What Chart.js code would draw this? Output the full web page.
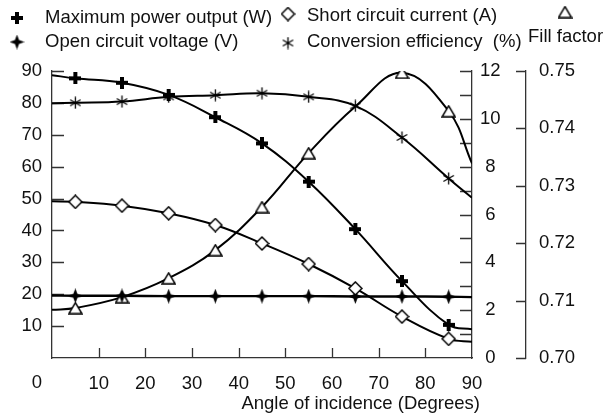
<!DOCTYPE html>
<html>
<head>
<meta charset="utf-8">
<script src="https://cdn.jsdelivr.net/npm/chart.js@4.4.0/dist/chart.umd.min.js"></script>
<style>
  html, body { margin: 0; padding: 0; background: #fff; }
</style>
</head>
<body>
<canvas id="myChart" width="612" height="417"></canvas>
<script>
// angle of incidence; first and last entries are where the curves meet the axes
const angles = [0, 5, 15, 25, 35, 45, 55, 65, 75, 85, 90];
const powerOutput = [88.7, 87.7, 86.3, 82.5, 75.5, 67.3, 55.3, 40.4, 24.1, 10.4, 9.0];
const openVoltage = [19.6, 19.5, 19.5, 19.4, 19.4, 19.4, 19.4, 19.3, 19.3, 19.2, 19.1];
const shortCurrent = [6.55, 6.53, 6.37, 6.05, 5.56, 4.79, 3.93, 2.91, 1.73, 0.80, 0.68];
const efficiency = [10.65, 10.67, 10.72, 10.92, 10.99, 11.07, 10.92, 10.54, 9.22, 7.51, 6.70];
const fillFactor = [0.7084, 0.7087, 0.7106, 0.7139, 0.7188, 0.7263, 0.7357, 0.7438, 0.7497, 0.7430, 0.7339];

const xTickLabels = [0, 10, 20, 30, 40, 50, 60, 70, 80, 90];
const fontFamily = '"Liberation Sans", Arial, sans-serif';
const axisColor = '#333';

Chart.defaults.font.family = fontFamily;
Chart.defaults.font.size = 18.5;
Chart.defaults.color = '#111';

function makeMarker(w, h, draw) {
  const c = document.createElement('canvas');
  c.width = w;
  c.height = h;
  const g = c.getContext('2d');
  g.strokeStyle = '#000';
  g.fillStyle = '#000';
  draw(g, w, h);
  return c;
}

const plusMark = makeMarker(12, 12, g => {
  g.fillRect(0, 4, 12, 4);
  g.fillRect(4, 0, 4, 12);
});
const diamondMark = makeMarker(15, 15, g => {
  g.beginPath();
  g.moveTo(7.5, 1); g.lineTo(14, 7.5); g.lineTo(7.5, 14); g.lineTo(1, 7.5);
  g.closePath();
  g.fillStyle = '#fff';
  g.fill();
  g.lineWidth = 1.5;
  g.stroke();
});
const starMark = makeMarker(15, 15, g => {
  g.beginPath();
  for (let i = 0; i < 8; i++) {
    const r = i % 2 === 0 ? 7.5 : 2.9;
    const a = -Math.PI / 2 + i * Math.PI / 4;
    const px = 7.5 + r * Math.cos(a), py = 7.5 + r * Math.sin(a);
    if (i === 0) g.moveTo(px, py); else g.lineTo(px, py);
  }
  g.closePath();
  g.fill();
});
const asteriskMark = makeMarker(13, 13, g => {
  g.lineWidth = 1.3;
  g.beginPath();
  [90, 30, 150].forEach(deg => {
    const a = deg * Math.PI / 180;
    g.moveTo(6.5 - 6 * Math.cos(a), 6.5 - 6 * Math.sin(a));
    g.lineTo(6.5 + 6 * Math.cos(a), 6.5 + 6 * Math.sin(a));
  });
  g.stroke();
});
const triangleMark = makeMarker(15, 13, g => {
  g.beginPath();
  g.moveTo(7.5, 1.2); g.lineTo(14, 12); g.lineTo(1, 12);
  g.closePath();
  g.fillStyle = '#fff';
  g.fill();
  g.lineWidth = 1.5;
  g.stroke();
});

const toPoints = vals => angles.map((a, i) => ({ x: a, y: vals[i] }));
const lastIdx = angles.length - 1;
const endRadius = ctx => (ctx.dataIndex === 0 || ctx.dataIndex === lastIdx) ? 0 : 6;

function series(label, vals, mark, axis, width, radius) {
  return {
    label: label,
    data: toPoints(vals),
    yAxisID: axis,
    borderColor: '#000',
    borderWidth: width,
    tension: 0.4,
    pointStyle: mark,
    pointRadius: radius || endRadius,
    fill: false
  };
}

const extras = {
  id: 'extras',
  beforeDatasetsDraw(chart) {
    const ctx = chart.ctx;
    const { x, y, y2, y3 } = chart.scales;
    ctx.save();
    ctx.strokeStyle = axisColor;
    ctx.lineWidth = 1.3;
    ctx.beginPath();
    x.ticks.forEach(t => {
      if (t.value > 0 && t.value < 90) {
        const px = Math.round(x.getPixelForValue(t.value)) + 0.5;
        ctx.moveTo(px, x.top); ctx.lineTo(px, x.top - 10);
      }
    });
    y.ticks.forEach(t => {
      if (t.value > 0) {
        const py = Math.round(y.getPixelForValue(t.value)) + 0.5;
        ctx.moveTo(y.right, py); ctx.lineTo(y.right + 12, py);
      }
    });
    y2.ticks.forEach(t => {
      if (t.value > 0) {
        const py = Math.round(y2.getPixelForValue(t.value)) + 0.5;
        ctx.moveTo(y2.left, py); ctx.lineTo(y2.left - 12, py);
      }
    });
    y3.ticks.forEach(t => {
      const py = Math.round(y3.getPixelForValue(t.value)) + 0.5;
      ctx.moveTo(y3.left, py); ctx.lineTo(y3.left - 10, py);
    });
    ctx.stroke();
    ctx.restore();
  },
  afterDraw(chart) {
    const ctx = chart.ctx;
    const { x } = chart.scales;
    ctx.save();
    ctx.fillStyle = '#111';
    ctx.font = '18.5px ' + fontFamily;
    ctx.textBaseline = 'middle';
    ctx.textAlign = 'center';
    ctx.fillText('0', x.left - 15, 383);
    ctx.textAlign = 'right';
    ctx.fillText('Angle of incidence (Degrees)', 480, 404);

    // legend
    const put = (img, cx, cy) => ctx.drawImage(img, cx - img.width / 2, cy - img.height / 2);
    ctx.textAlign = 'left';
    put(plusMark, 17, 18);
    ctx.fillText('Maximum power output (W)', 45, 18);
    put(starMark, 17, 42);
    ctx.fillText('Open circuit voltage (V)', 45, 42);
    put(diamondMark, 288, 14);
    ctx.fillText('Short circuit current (A)', 307, 16);
    put(asteriskMark, 288, 43);
    ctx.fillText('Conversion efficiency  (%)', 307, 42);
    put(triangleMark, 565, 12);
    ctx.fillText('Fill factor', 528, 37);
    ctx.restore();
  }
};

const border = { display: true, color: axisColor, width: 1.3 };

const myChart = new Chart(document.getElementById('myChart').getContext('2d'), {
  type: 'line',
  data: {
    datasets: [
      series('Maximum power output (W)', powerOutput, plusMark, 'y', 2),
      series('Short circuit current (A)', shortCurrent, diamondMark, 'y2', 2),
      series('Open circuit voltage (V)', openVoltage, starMark, 'y', 2.4),
      series('Conversion efficiency (%)', efficiency, asteriskMark, 'y2', 2),
      series('Fill factor', fillFactor, triangleMark, 'y3', 2,
        ctx => (ctx.dataIndex === 0 || ctx.dataIndex === lastIdx || angles[ctx.dataIndex] === 65) ? 0 : 6)
    ]
  },
  options: {
    responsive: false,
    animation: false,
    layout: { padding: { top: 71 } },
    plugins: {
      legend: { display: false },
      tooltip: { enabled: false }
    },
    scales: {
      x: {
        type: 'linear',
        min: 0,
        max: 90,
        grid: { display: false },
        border: border,
        ticks: {
          stepSize: 10,
          autoSkip: false,
          maxRotation: 0,
          padding: 7,
          callback: v => (xTickLabels.includes(v) && v !== 0) ? v : ''
        },
        afterFit: s => { s.height = 59; }
      },
      y: {
        position: 'left',
        min: 0,
        max: 90,
        grid: { display: false },
        border: border,
        ticks: { stepSize: 10, padding: 2, callback: v => v === 0 ? '' : v },
        afterFit: s => { s.width = 52; }
      },
      y2: {
        position: 'right',
        min: 0,
        max: 12,
        grid: { display: false },
        border: border,
        ticks: {
          stepSize: 1,
          autoSkip: false,
          padding: 0,
          crossAlign: 'center',
          callback: v => v % 2 === 0 ? v : ''
        },
        afterFit: s => { s.width = 54; }
      },
      y3: {
        position: 'right',
        min: 0.70,
        max: 0.75,
        grid: { display: false },
        border: border,
        ticks: { stepSize: 0.01, padding: 5, callback: v => v.toFixed(2) },
        afterFit: s => { s.width = 86; }
      }
    }
  },
  plugins: [extras]
});
</script>
</body>
</html>
